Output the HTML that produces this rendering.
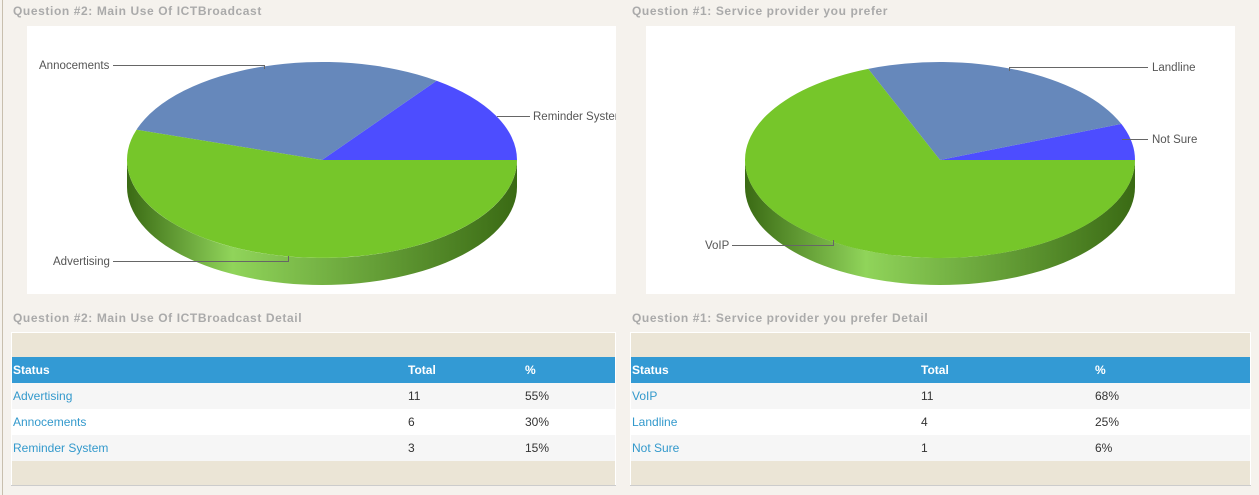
<!DOCTYPE html>
<html><head><style>
body{margin:0;width:1259px;height:495px;background:#f5f2ed;font-family:"Liberation Sans",sans-serif;position:relative;overflow:hidden}
.lb{position:absolute;left:2px;top:0;width:1px;height:495px;background:#c8bfae}
.t{position:absolute;font-size:12px;font-weight:bold;color:#aaa;letter-spacing:0.6px}
.box{position:absolute;background:#fff}
table{position:absolute;border-collapse:collapse;font-size:12px;background:#ebe5d6;border:1px solid #fff;border-bottom:1px solid #ccc;color:#333}
td{padding:0 0 0 1px;height:26px}
tr.pad td{height:24px}
tr.h td{background:#339ad4;color:#fff;font-weight:bold;height:26px}
tr.a td{background:#f6f6f6}
tr.b td{background:#fff}
a{color:#3399cc;text-decoration:none}
svg text{font-family:"Liberation Sans",sans-serif;font-size:11.5px;fill:#555}
</style></head><body>
<div class="lb"></div>
<div class="t" style="left:13px;top:4px">Question #2: Main Use Of ICTBroadcast</div>
<div class="t" style="left:632px;top:4px">Question #1: Service provider you prefer</div>
<div class="box" style="left:27px;top:26px;width:589px;height:268px"></div>
<div class="box" style="left:646px;top:26px;width:589px;height:268px"></div>
<svg width="1259" height="300" style="position:absolute;left:0;top:0">
<defs>
<linearGradient id="g1" x1="127" x2="517" gradientUnits="userSpaceOnUse"><stop offset="0" stop-color="#3a6a14"/><stop offset="0.27" stop-color="#90d45a"/><stop offset="1" stop-color="#3a6a14"/></linearGradient>
<linearGradient id="g2" x1="745" x2="1135" gradientUnits="userSpaceOnUse"><stop offset="0" stop-color="#3a6a14"/><stop offset="0.31" stop-color="#90d45a"/><stop offset="1" stop-color="#3a6a14"/></linearGradient>
</defs>
<path d="M127,160 A195 98 0 0 0 517,160 L517,187 A195 98 0 0 1 127,187 Z" fill="url(#g1)"/>
<path d="M322,160 L517,160 A195 98 0 0 0 436.6,80.7 Z" fill="#4d4dff"/>
<path d="M322,160 L436.6,80.7 A195 98 0 0 0 136.5,129.7 Z" fill="#6688bb"/>
<path d="M322,160 L136.5,129.7 A195 98 0 1 0 517,160 Z" fill="#76c62a"/>
<path d="M745,160 A195 98 0 0 0 1135,160 L1135,187 A195 98 0 0 1 745,187 Z" fill="url(#g2)"/>
<path d="M940,160 L1135,160 A195 98 0 0 0 1121.3,123.9 Z" fill="#4d4dff"/>
<path d="M940,160 L1121.3,123.9 A195 98 0 0 0 868.2,68.9 Z" fill="#6688bb"/>
<path d="M940,160 L868.2,68.9 A195 98 0 1 0 1135,160 Z" fill="#76c62a"/>
<g stroke="#666" fill="none" stroke-width="1">
<path d="M113,65.5 H264.5 V69"/>
<path d="M497,116.5 H530"/>
<path d="M113,261.5 H288.5 V256"/>
<path d="M1009.5,71 V67.5 H1148"/>
<path d="M1122,139.5 H1148"/>
<path d="M732,245.5 H833.5 V240"/>
</g>
<text x="39" y="69">Annocements</text>
<text x="533" y="120">Reminder System</text>
<text x="53" y="265">Advertising</text>
<text x="1152" y="71">Landline</text>
<text x="1152" y="143">Not Sure</text>
<text x="705" y="249">VoIP</text>
</svg>
<div class="box" style="left:616px;top:26px;width:10px;height:268px;background:#f5f2ed"></div>
<div class="t" style="left:13px;top:311px">Question #2: Main Use Of ICTBroadcast Detail</div>
<div class="t" style="left:632px;top:311px">Question #1: Service provider you prefer Detail</div>
<table style="left:11px;top:332px;width:605px">
<tr class="pad"><td style="width:394px"></td><td style="width:116px"></td><td></td></tr>
<tr class="h"><td>Status</td><td>Total</td><td>%</td></tr>
<tr class="a"><td><a>Advertising</a></td><td>11</td><td>55%</td></tr>
<tr class="b"><td><a>Annocements</a></td><td>6</td><td>30%</td></tr>
<tr class="a"><td><a>Reminder System</a></td><td>3</td><td>15%</td></tr>
<tr class="pad"><td></td><td></td><td></td></tr>
</table>
<table style="left:630px;top:332px;width:621px">
<tr class="pad"><td style="width:288px"></td><td style="width:173px"></td><td></td></tr>
<tr class="h"><td>Status</td><td>Total</td><td>%</td></tr>
<tr class="a"><td><a>VoIP</a></td><td>11</td><td>68%</td></tr>
<tr class="b"><td><a>Landline</a></td><td>4</td><td>25%</td></tr>
<tr class="a"><td><a>Not Sure</a></td><td>1</td><td>6%</td></tr>
<tr class="pad"><td></td><td></td><td></td></tr>
</table>
</body></html>
